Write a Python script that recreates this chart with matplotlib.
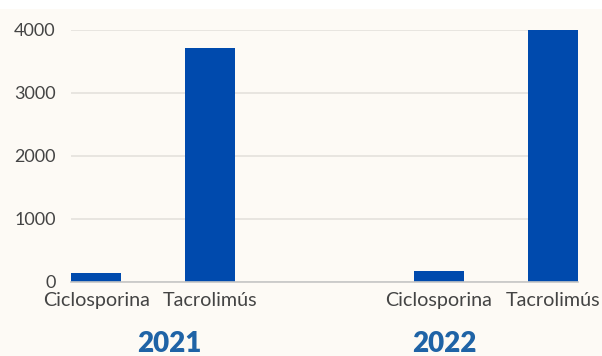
import matplotlib
matplotlib.use('Agg')
import matplotlib.pyplot as plt
from matplotlib.patches import Rectangle
from matplotlib.transforms import blended_transform_factory

plt.rcParams['font.family'] = ['Lato', 'DejaVu Sans']

# prescription counts per drug and year
years = ['2021', '2022']
drugs = ['Ciclosporina', 'Tacrolimús']
values_2021 = [140, 3705]
values_2022 = [180, 3995]
yticks = [0, 1000, 2000, 3000, 4000]

positions = [0, 1, 3, 4]
labels = drugs + drugs
values = values_2021 + values_2022

bg = '#fdfaf5'
bar_color = '#004aad'
year_color = '#1f63a6'
text_color = '#444444'

fig = plt.figure(figsize=(6.02, 3.56), dpi=100)
fig.patch.set_facecolor(bg)
# thin white band along the top edge
fig.patches.append(Rectangle((0, 1 - 9/356), 1, 9/356, transform=fig.transFigure,
                             facecolor='white', edgecolor='none', zorder=0))

ax = fig.add_axes([71/602, 1 - 282/356, 507/602, (282 - 29.5)/356])
ax.set_facecolor(bg)
ax.bar(positions, values, width=0.44, color=bar_color, zorder=3)

ax.set_xlim(-0.22, 4.22)
ax.set_ylim(0, 4000)
ax.set_yticks(yticks)
ax.set_yticklabels([str(t) for t in yticks])
ax.set_xticks(positions)
ax.set_xticklabels(labels)
ax.tick_params(axis='both', length=0, colors=text_color)
ax.tick_params(axis='y', pad=11, labelsize=13)
ax.tick_params(axis='x', pad=7, labelsize=14.2)

ax.grid(axis='y', color='#e4e1dc', linewidth=1.2, zorder=1)
ax.grid(axis='x', visible=False)
for s in ['top', 'right', 'left']:
    ax.spines[s].set_visible(False)
ax.spines['bottom'].set_color('#c6c6c6')
ax.spines['bottom'].set_linewidth(1.2)
ax.spines['bottom'].set_zorder(4)

trans = blended_transform_factory(ax.transData, fig.transFigure)
for x, yr in zip([0.64, 3.05], years):
    ax.text(x, 1 - 351.5/356, yr, transform=trans, ha='center', va='baseline',
            fontsize=20, fontweight='heavy', color=year_color)

plt.savefig('out.png', dpi=100, facecolor=bg)
